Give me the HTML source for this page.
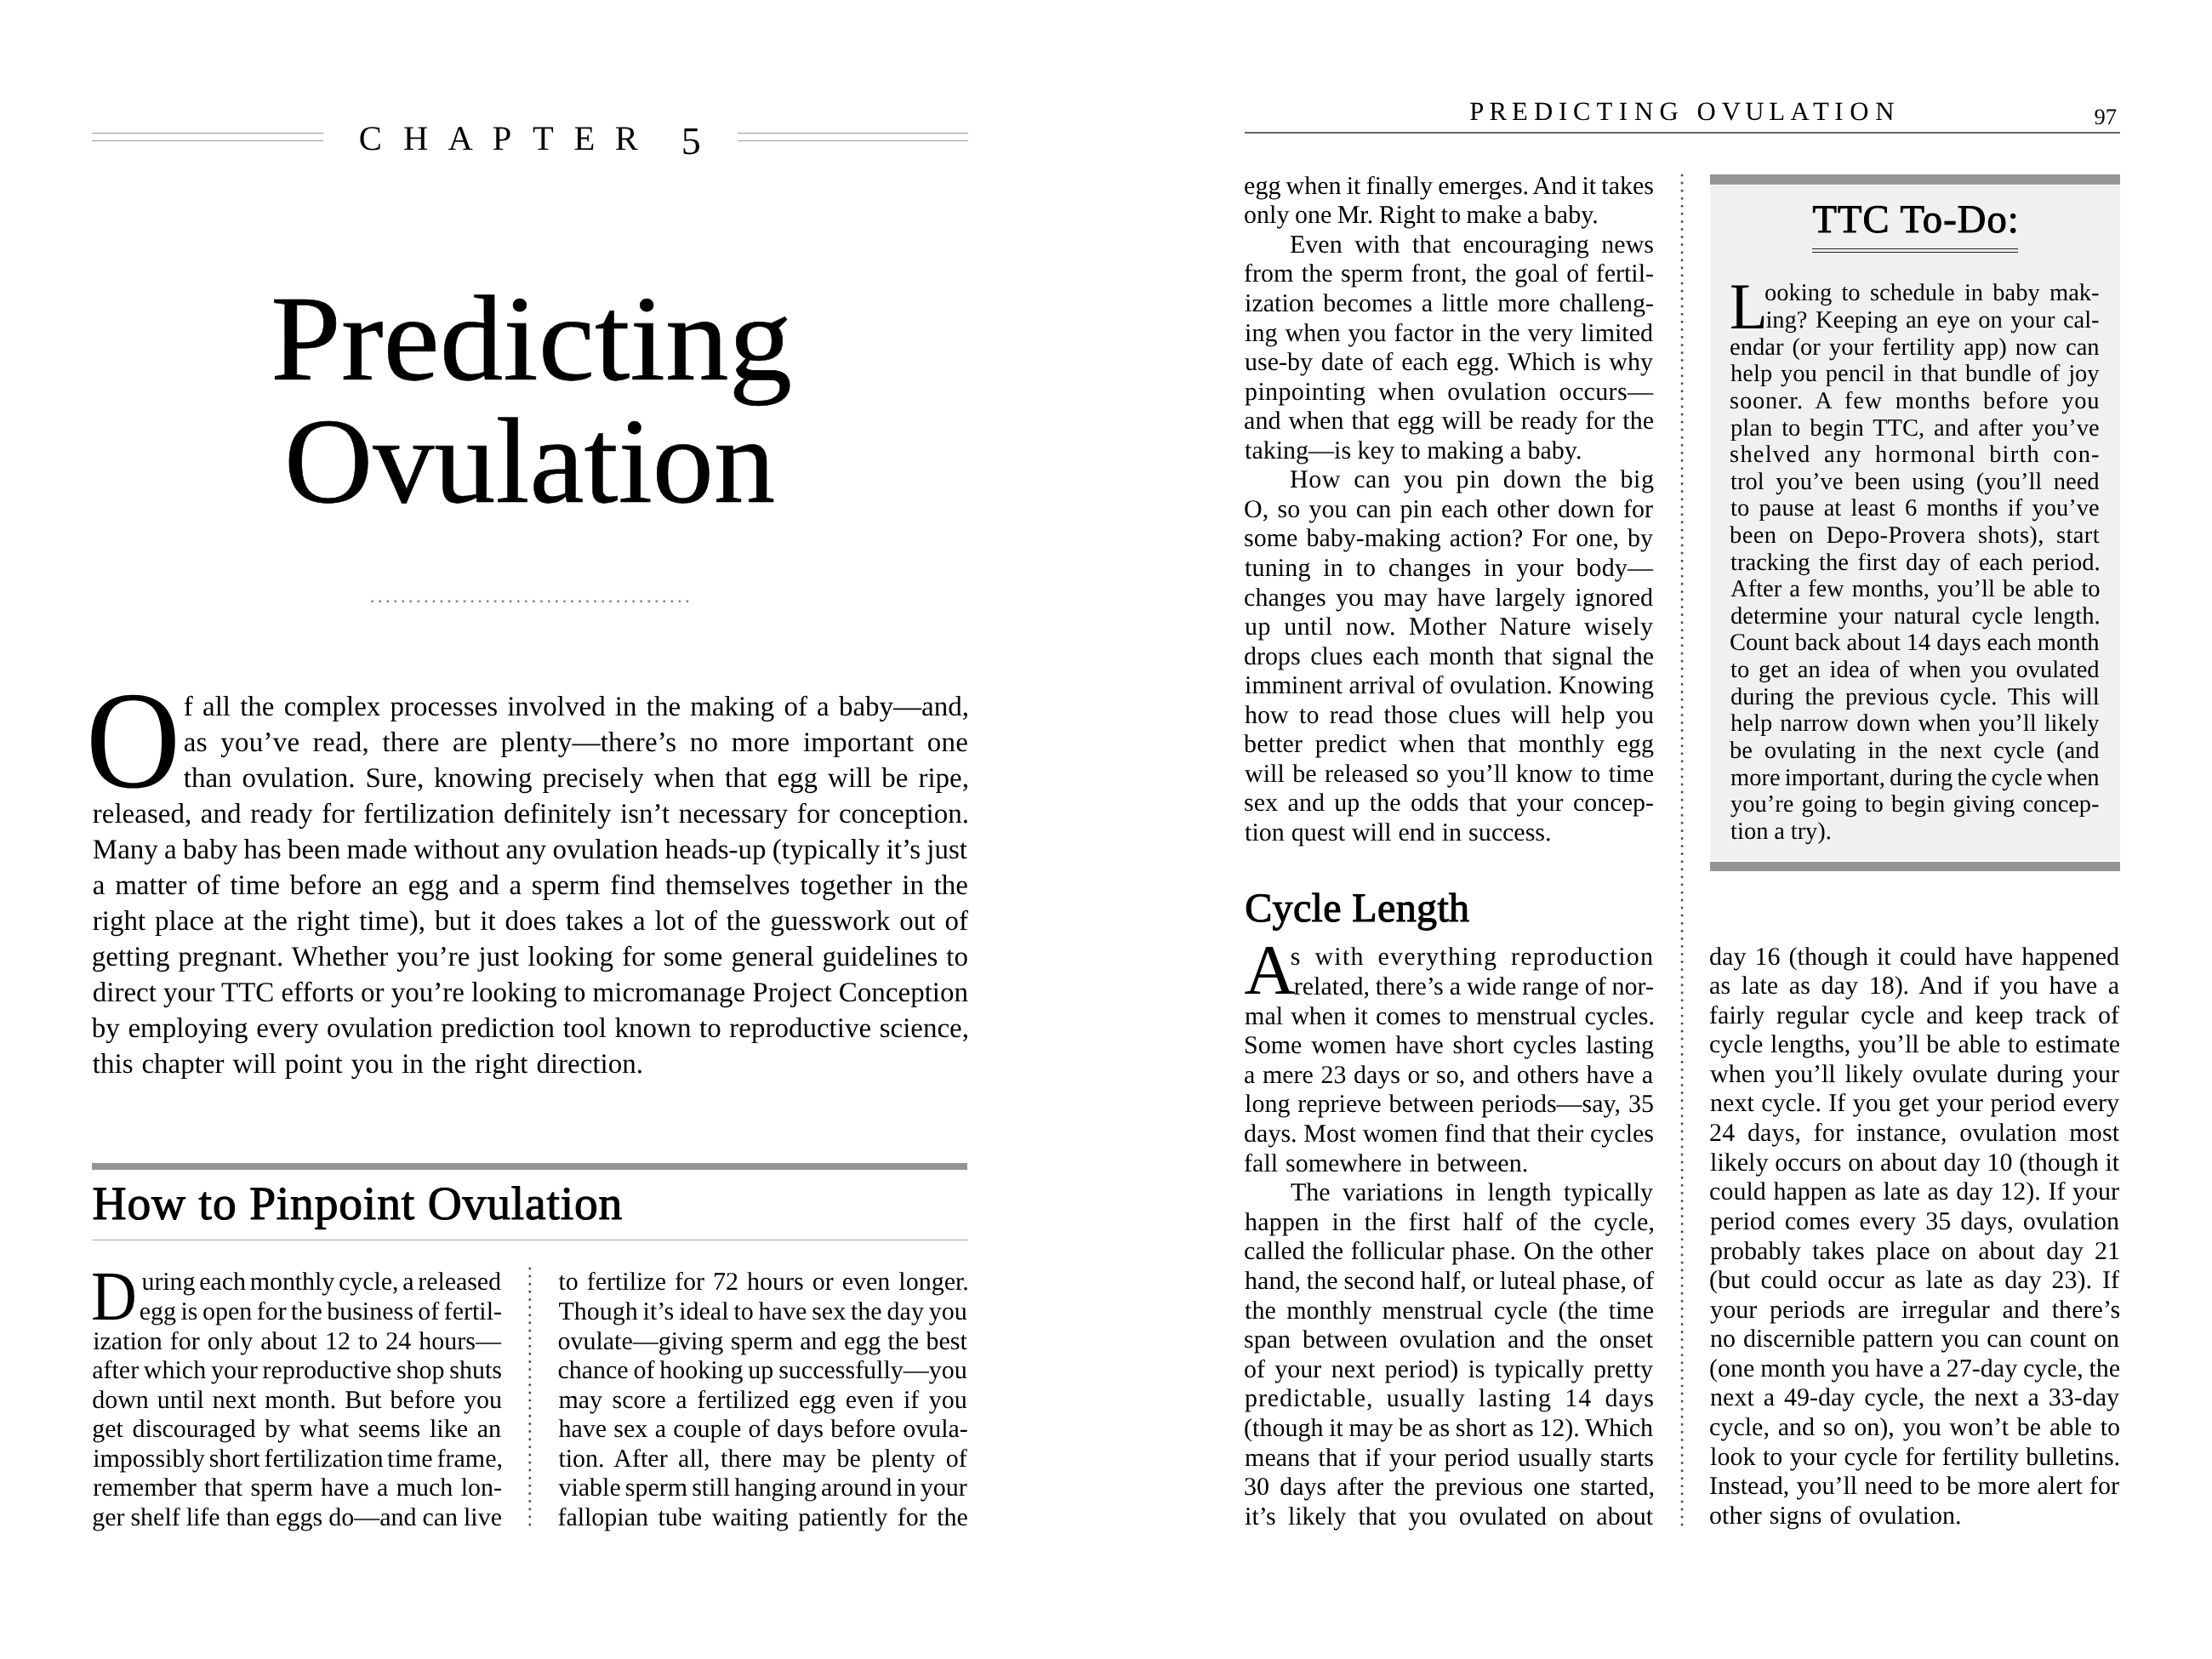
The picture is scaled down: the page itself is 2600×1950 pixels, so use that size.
<!DOCTYPE html>
<html lang="en"><head><meta charset="utf-8"><title>Predicting Ovulation</title>
<style>
html,body{margin:0;padding:0;background:#fff}
html{filter:grayscale(1)}
body{width:2600px;height:1950px;position:relative;overflow:hidden;font-family:"Liberation Serif",serif;color:#000;text-rendering:geometricPrecision}
.a{position:absolute}
.l{position:absolute;white-space:pre;line-height:40px;height:40px}
.hr{position:absolute;height:1.1px;background:#9a9a9a}
</style></head><body>
<div class="hr" style="left:108px;top:156px;width:272px"></div>
<div class="hr" style="left:108px;top:165px;width:272px"></div>
<div class="hr" style="left:867px;top:156px;width:271px"></div>
<div class="hr" style="left:867px;top:165px;width:271px"></div>
<svg class="a" style="left:0;top:0;overflow:visible" width="2600" height="200"><text x="421.85 474.05 526.55 578.70 626.00 674.60 722.75 742.75" y="175.70" font-family="Liberation Serif" font-size="40.6" fill="#000">CHAPTER <tspan x="800.65" dy="5.7" font-size="46">5</tspan></text></svg>
<div class="l" style="left:317.9px;top:379.00px;font-size:143.5px;letter-spacing:0px;transform-origin:0 0;transform:scaleX(1.0393);-webkit-text-stroke:0.6px #000">Predicting</div>
<div class="l" style="left:333.9px;top:523.00px;font-size:143.5px;letter-spacing:0px;transform-origin:0 0;transform:scaleX(1.0055);-webkit-text-stroke:0.6px #000">Ovulation</div>
<svg class="a" style="left:0;top:0" width="1300" height="800"><line x1="437.7" y1="706.7" x2="808.4" y2="706.7" stroke="#8a8a8a" stroke-width="3" stroke-linecap="round" stroke-dasharray="0 9.029"/></svg>
<div class="a" style="left:108px;top:1367.3px;width:1029.3px;height:7.7px;background:#939598"></div>
<div class="l" style="left:108.5px;top:1396.00px;font-size:55.5px;letter-spacing:0.834px;-webkit-text-stroke:1.1px #000">How to Pinpoint Ovulation</div>
<div class="a" style="left:108px;top:1456.5px;width:1030px;height:1.2px;background:#a6a6a6"></div>
<svg class="a" style="left:0;top:0" width="1300" height="1950"><line x1="622.8" y1="1491" x2="622.8" y2="1792.5" stroke="#505050" stroke-width="3" stroke-linecap="round" stroke-dasharray="0 9.12"/></svg>
<svg class="a" style="left:0;top:0;overflow:visible" width="2600" height="200"><text x="1727.25 1750.45 1776.90 1802.90 1832.05 1849.05 1876.50 1902.85 1921.00 1950.50 1970.50 1994.60 2023.80 2051.20 2079.30 2104.60 2130.90 2156.25 2174.30 2204.30" y="141.20" font-family="Liberation Serif" font-size="30.8" fill="#000">PREDICTING OVULATION</text></svg>
<div class="l" style="left:2461.5px;top:117.00px;font-size:26.6px">97</div>
<div class="a" style="left:1462.7px;top:155px;width:1029px;height:2px;background:#666"></div>
<svg class="a" style="left:1300px;top:0" width="1300" height="1950"><line x1="677.1" y1="206" x2="677.1" y2="1792.6" stroke="#505050" stroke-width="3" stroke-linecap="round" stroke-dasharray="0 9.0634"/></svg>
<div class="a" style="left:2010px;top:217.6px;width:481.6px;height:793.6px;background:#f0f0f0"></div>
<div class="a" style="left:2010px;top:204.8px;width:481.6px;height:11.8px;background:#939598"></div>
<div class="a" style="left:2010px;top:1012.6px;width:481.6px;height:11.8px;background:#939598"></div>
<div class="l" style="left:2130.4px;top:239.00px;font-size:46.5px;letter-spacing:1.126px;-webkit-text-stroke:1.0px #000">TTC To-Do:</div>
<div class="a" style="left:2130px;top:291.6px;width:242px;height:1.3px;background:#222"></div>
<div class="a" style="left:2130px;top:295.8px;width:242px;height:1.3px;background:#222"></div>
<div class="l" style="left:1463.2px;top:1048.00px;font-size:48px;letter-spacing:0.363px;-webkit-text-stroke:1.1px #000">Cycle Length</div>
<div class="l" style="left:100.8px;top:851.00px;font-size:163.5px;transform-origin:0 0;transform:scaleX(0.94)">O</div>
<div class="l" style="left:107.1px;top:1504.00px;font-size:82.4px;transform-origin:0 0;transform:scaleX(0.905)">D</div>
<div class="l" style="left:2032.8px;top:340.00px;font-size:77px;transform-origin:0 0;transform:scaleX(0.95)">L</div>
<div class="l" style="left:1462.5px;top:1121.00px;font-size:83.5px;transform-origin:0 0;transform:scaleX(1.0)">A</div>
<div class="l" style="left:215.8px;top:811.00px;font-size:33px;word-spacing:2.949px">f all the complex processes involved in the making of a baby—and,</div>
<div class="l" style="left:215.8px;top:853.00px;font-size:33px;letter-spacing:0.235px;word-spacing:7.000px">as you’ve read, there are plenty—there’s no more important one</div>
<div class="l" style="left:215.8px;top:895.00px;font-size:33px;word-spacing:3.698px">than ovulation. Sure, knowing precisely when that egg will be ripe,</div>
<div class="l" style="left:108.8px;top:937.00px;font-size:33px;word-spacing:2.441px">released, and ready for fertilization definitely isn’t necessary for conception.</div>
<div class="l" style="left:108.8px;top:979.00px;font-size:33px;word-spacing:-0.923px">Many a baby has been made without any ovulation heads-up (typically it’s just</div>
<div class="l" style="left:108.8px;top:1021.00px;font-size:33px;word-spacing:3.480px">a matter of time before an egg and a sperm find themselves together in the</div>
<div class="l" style="left:108.8px;top:1063.00px;font-size:33px;word-spacing:2.751px">right place at the right time), but it does takes a lot of the guesswork out of</div>
<div class="l" style="left:107.8px;top:1105.00px;font-size:33px;word-spacing:1.815px">getting pregnant. Whether you’re just looking for some general guidelines to</div>
<div class="l" style="left:108.8px;top:1147.00px;font-size:33px;word-spacing:-0.149px">direct your TTC efforts or you’re looking to micromanage Project Conception</div>
<div class="l" style="left:107.8px;top:1189.00px;font-size:33px;word-spacing:1.347px">by employing every ovulation prediction tool known to reproductive science,</div>
<div class="l" style="left:108.8px;top:1231.00px;font-size:33px;word-spacing:1.736px">this chapter will point you in the right direction.</div>
<div class="l" style="left:166.5px;top:1487.00px;font-size:30px;letter-spacing:-0.090px;word-spacing:-2.500px">uring each monthly cycle, a released</div>
<div class="l" style="left:163.8px;top:1522.00px;font-size:30px;word-spacing:-2.076px">egg is open for the business of fertil-</div>
<div class="l" style="left:109.2px;top:1557.00px;font-size:30px;word-spacing:1.527px">ization for only about 12 to 24 hours—</div>
<div class="l" style="left:108.2px;top:1591.00px;font-size:30px;word-spacing:-1.784px">after which your reproductive shop shuts</div>
<div class="l" style="left:108.2px;top:1626.00px;font-size:30px;word-spacing:2.391px">down until next month. But before you</div>
<div class="l" style="left:108.2px;top:1660.00px;font-size:30px;word-spacing:3.211px">get discouraged by what seems like an</div>
<div class="l" style="left:109.2px;top:1695.00px;font-size:30px;letter-spacing:-0.015px;word-spacing:-2.500px">impossibly short fertilization time frame,</div>
<div class="l" style="left:109.2px;top:1729.00px;font-size:30px;word-spacing:1.829px">remember that sperm have a much lon-</div>
<div class="l" style="left:108.2px;top:1764.00px;font-size:30px;word-spacing:-0.553px">ger shelf life than eggs do—and can live</div>
<div class="l" style="left:656.4px;top:1487.00px;font-size:30px;word-spacing:2.506px">to fertilize for 72 hours or even longer.</div>
<div class="l" style="left:656.4px;top:1522.00px;font-size:30px;word-spacing:-1.604px">Though it’s ideal to have sex the day you</div>
<div class="l" style="left:655.4px;top:1557.00px;font-size:30px;word-spacing:0.799px">ovulate—giving sperm and egg the best</div>
<div class="l" style="left:655.4px;top:1591.00px;font-size:30px;word-spacing:-1.705px">chance of hooking up successfully—you</div>
<div class="l" style="left:656.4px;top:1626.00px;font-size:30px;word-spacing:4.012px">may score a fertilized egg even if you</div>
<div class="l" style="left:656.4px;top:1660.00px;font-size:30px;word-spacing:0.823px">have sex a couple of days before ovula-</div>
<div class="l" style="left:656.4px;top:1695.00px;font-size:30px;word-spacing:4.957px">tion. After all, there may be plenty of</div>
<div class="l" style="left:656.4px;top:1729.00px;font-size:30px;word-spacing:-2.420px">viable sperm still hanging around in your</div>
<div class="l" style="left:655.4px;top:1764.00px;font-size:30px;word-spacing:4.005px">fallopian tube waiting patiently for the</div>
<div class="l" style="left:1462.1px;top:199.00px;font-size:30px;word-spacing:-1.302px">egg when it finally emerges. And it takes</div>
<div class="l" style="left:1462.1px;top:233.00px;font-size:30px;word-spacing:-1.033px">only one Mr. Right to make a baby.</div>
<div class="l" style="left:1516.0px;top:268.00px;font-size:30px;letter-spacing:0.004px;word-spacing:7.000px">Even with that encouraging news</div>
<div class="l" style="left:1462.1px;top:302.00px;font-size:30px;word-spacing:1.959px">from the sperm front, the goal of fertil-</div>
<div class="l" style="left:1463.1px;top:337.00px;font-size:30px;word-spacing:3.049px">ization becomes a little more challeng-</div>
<div class="l" style="left:1463.1px;top:372.00px;font-size:30px;word-spacing:1.550px">ing when you factor in the very limited</div>
<div class="l" style="left:1463.1px;top:406.00px;font-size:30px;word-spacing:2.229px">use-by date of each egg. Which is why</div>
<div class="l" style="left:1463.1px;top:441.00px;font-size:30px;letter-spacing:0.347px;word-spacing:7.000px">pinpointing when ovulation occurs—</div>
<div class="l" style="left:1462.1px;top:475.00px;font-size:30px;word-spacing:1.507px">and when that egg will be ready for the</div>
<div class="l" style="left:1463.1px;top:510.00px;font-size:30px;word-spacing:-0.006px">taking—is key to making a baby.</div>
<div class="l" style="left:1516.0px;top:544.00px;font-size:30px;letter-spacing:0.594px;word-spacing:7.000px">How can you pin down the big</div>
<div class="l" style="left:1462.1px;top:579.00px;font-size:30px;word-spacing:2.732px">O, so you can pin each other down for</div>
<div class="l" style="left:1462.1px;top:613.00px;font-size:30px;word-spacing:2.533px">some baby-making action? For one, by</div>
<div class="l" style="left:1463.1px;top:648.00px;font-size:30px;letter-spacing:0.139px;word-spacing:7.000px">tuning in to changes in your body—</div>
<div class="l" style="left:1462.1px;top:683.00px;font-size:30px;word-spacing:3.821px">changes you may have largely ignored</div>
<div class="l" style="left:1463.1px;top:717.00px;font-size:30px;letter-spacing:0.513px;word-spacing:7.000px">up until now. Mother Nature wisely</div>
<div class="l" style="left:1462.1px;top:752.00px;font-size:30px;word-spacing:3.947px">drops clues each month that signal the</div>
<div class="l" style="left:1463.1px;top:786.00px;font-size:30px;word-spacing:0.037px">imminent arrival of ovulation. Knowing</div>
<div class="l" style="left:1463.1px;top:821.00px;font-size:30px;word-spacing:4.783px">how to read those clues will help you</div>
<div class="l" style="left:1462.1px;top:855.00px;font-size:30px;letter-spacing:0.129px;word-spacing:7.000px">better predict when that monthly egg</div>
<div class="l" style="left:1463.1px;top:890.00px;font-size:30px;word-spacing:1.928px">will be released so you’ll know to time</div>
<div class="l" style="left:1462.1px;top:924.00px;font-size:30px;word-spacing:3.979px">sex and up the odds that your concep-</div>
<div class="l" style="left:1463.1px;top:959.00px;font-size:30px;word-spacing:0.421px">tion quest will end in success.</div>
<div class="l" style="left:2074.0px;top:325.00px;font-size:28.5px;word-spacing:4.161px">ooking to schedule in baby mak-</div>
<div class="l" style="left:2075.4px;top:357.00px;font-size:28.5px;word-spacing:2.322px">ing? Keeping an eye on your cal-</div>
<div class="l" style="left:2033.1px;top:389.00px;font-size:28.5px;word-spacing:3.039px">endar (or your fertility app) now can</div>
<div class="l" style="left:2034.1px;top:420.00px;font-size:28.5px;word-spacing:2.790px">help you pencil in that bundle of joy</div>
<div class="l" style="left:2033.1px;top:452.00px;font-size:28.5px;letter-spacing:0.757px;word-spacing:7.000px">sooner. A few months before you</div>
<div class="l" style="left:2034.1px;top:484.00px;font-size:28.5px;word-spacing:3.878px">plan to begin TTC, and after you’ve</div>
<div class="l" style="left:2033.1px;top:515.00px;font-size:28.5px;letter-spacing:1.203px;word-spacing:7.000px">shelved any hormonal birth con-</div>
<div class="l" style="left:2034.1px;top:547.00px;font-size:28.5px;word-spacing:6.444px">trol you’ve been using (you’ll need</div>
<div class="l" style="left:2034.1px;top:578.00px;font-size:28.5px;word-spacing:4.147px">to pause at least 6 months if you’ve</div>
<div class="l" style="left:2033.1px;top:610.00px;font-size:28.5px;letter-spacing:0.350px;word-spacing:7.000px">been on Depo-Provera shots), start</div>
<div class="l" style="left:2034.1px;top:642.00px;font-size:28.5px;word-spacing:3.435px">tracking the first day of each period.</div>
<div class="l" style="left:2034.1px;top:673.00px;font-size:28.5px;word-spacing:1.922px">After a few months, you’ll be able to</div>
<div class="l" style="left:2034.1px;top:705.00px;font-size:28.5px;word-spacing:5.551px">determine your natural cycle length.</div>
<div class="l" style="left:2033.1px;top:736.00px;font-size:28.5px;word-spacing:-0.138px">Count back about 14 days each month</div>
<div class="l" style="left:2034.1px;top:768.00px;font-size:28.5px;word-spacing:3.701px">to get an idea of when you ovulated</div>
<div class="l" style="left:2034.1px;top:800.00px;font-size:28.5px;word-spacing:5.753px">during the previous cycle. This will</div>
<div class="l" style="left:2034.1px;top:831.00px;font-size:28.5px;word-spacing:2.009px">help narrow down when you’ll likely</div>
<div class="l" style="left:2033.1px;top:863.00px;font-size:28.5px;word-spacing:6.729px">be ovulating in the next cycle (and</div>
<div class="l" style="left:2034.1px;top:895.00px;font-size:28.5px;word-spacing:-1.941px">more important, during the cycle when</div>
<div class="l" style="left:2034.1px;top:926.00px;font-size:28.5px;word-spacing:2.012px">you’re going to begin giving concep-</div>
<div class="l" style="left:2034.1px;top:958.00px;font-size:28.5px;word-spacing:-0.308px">tion a try).</div>
<div class="l" style="left:1516.8px;top:1105.00px;font-size:30px;letter-spacing:1.245px;word-spacing:7.000px">s with everything reproduction</div>
<div class="l" style="left:1520.8px;top:1140.00px;font-size:30px;word-spacing:-0.584px">related, there’s a wide range of nor-</div>
<div class="l" style="left:1463.1px;top:1175.00px;font-size:30px;word-spacing:1.587px">mal when it comes to menstrual cycles.</div>
<div class="l" style="left:1462.1px;top:1209.00px;font-size:30px;word-spacing:3.233px">Some women have short cycles lasting</div>
<div class="l" style="left:1462.1px;top:1244.00px;font-size:30px;word-spacing:1.043px">a mere 23 days or so, and others have a</div>
<div class="l" style="left:1463.1px;top:1278.00px;font-size:30px;word-spacing:1.373px">long reprieve between periods—say, 35</div>
<div class="l" style="left:1462.1px;top:1313.00px;font-size:30px;word-spacing:0.194px">days. Most women find that their cycles</div>
<div class="l" style="left:1462.1px;top:1348.00px;font-size:30px;word-spacing:1.408px">fall somewhere in between.</div>
<div class="l" style="left:1517.0px;top:1382.00px;font-size:30px;word-spacing:6.941px">The variations in length typically</div>
<div class="l" style="left:1463.1px;top:1417.00px;font-size:30px;letter-spacing:0.173px;word-spacing:7.000px">happen in the first half of the cycle,</div>
<div class="l" style="left:1462.1px;top:1451.00px;font-size:30px;word-spacing:1.153px">called the follicular phase. On the other</div>
<div class="l" style="left:1463.1px;top:1486.00px;font-size:30px;word-spacing:-0.563px">hand, the second half, or luteal phase, of</div>
<div class="l" style="left:1463.1px;top:1521.00px;font-size:30px;word-spacing:5.039px">the monthly menstrual cycle (the time</div>
<div class="l" style="left:1462.1px;top:1555.00px;font-size:30px;word-spacing:6.367px">span between ovulation and the onset</div>
<div class="l" style="left:1462.1px;top:1590.00px;font-size:30px;word-spacing:3.780px">of your next period) is typically pretty</div>
<div class="l" style="left:1463.1px;top:1624.00px;font-size:30px;letter-spacing:0.871px;word-spacing:7.000px">predictable, usually lasting 14 days</div>
<div class="l" style="left:1462.1px;top:1659.00px;font-size:30px;word-spacing:-0.745px">(though it may be as short as 12). Which</div>
<div class="l" style="left:1463.1px;top:1694.00px;font-size:30px;word-spacing:2.387px">means that if your period usually starts</div>
<div class="l" style="left:1462.1px;top:1728.00px;font-size:30px;word-spacing:4.535px">30 days after the previous one started,</div>
<div class="l" style="left:1463.1px;top:1763.00px;font-size:30px;word-spacing:6.660px">it’s likely that you ovulated on about</div>
<div class="l" style="left:2009.1px;top:1105.00px;font-size:30px;word-spacing:2.576px">day 16 (though it could have happened</div>
<div class="l" style="left:2009.1px;top:1139.00px;font-size:30px;word-spacing:5.236px">as late as day 18). And if you have a</div>
<div class="l" style="left:2009.1px;top:1174.00px;font-size:30px;word-spacing:6.484px">fairly regular cycle and keep track of</div>
<div class="l" style="left:2009.1px;top:1208.00px;font-size:30px;word-spacing:1.219px">cycle lengths, you’ll be able to estimate</div>
<div class="l" style="left:2010.1px;top:1243.00px;font-size:30px;word-spacing:3.384px">when you’ll likely ovulate during your</div>
<div class="l" style="left:2010.1px;top:1277.00px;font-size:30px;word-spacing:0.882px">next cycle. If you get your period every</div>
<div class="l" style="left:2009.1px;top:1312.00px;font-size:30px;letter-spacing:0.127px;word-spacing:7.000px">24 days, for instance, ovulation most</div>
<div class="l" style="left:2010.1px;top:1347.00px;font-size:30px;word-spacing:0.275px">likely occurs on about day 10 (though it</div>
<div class="l" style="left:2009.1px;top:1381.00px;font-size:30px;word-spacing:1.207px">could happen as late as day 12). If your</div>
<div class="l" style="left:2010.1px;top:1416.00px;font-size:30px;word-spacing:3.556px">period comes every 35 days, ovulation</div>
<div class="l" style="left:2010.1px;top:1451.00px;font-size:30px;word-spacing:5.911px">probably takes place on about day 21</div>
<div class="l" style="left:2009.1px;top:1485.00px;font-size:30px;word-spacing:4.541px">(but could occur as late as day 23). If</div>
<div class="l" style="left:2010.1px;top:1520.00px;font-size:30px;letter-spacing:0.082px;word-spacing:7.000px">your periods are irregular and there’s</div>
<div class="l" style="left:2010.1px;top:1554.00px;font-size:30px;word-spacing:1.299px">no discernible pattern you can count on</div>
<div class="l" style="left:2009.1px;top:1589.00px;font-size:30px;word-spacing:-0.739px">(one month you have a 27-day cycle, the</div>
<div class="l" style="left:2010.1px;top:1623.00px;font-size:30px;word-spacing:3.502px">next a 49-day cycle, the next a 33-day</div>
<div class="l" style="left:2009.1px;top:1658.00px;font-size:30px;word-spacing:2.334px">cycle, and so on), you won’t be able to</div>
<div class="l" style="left:2010.1px;top:1693.00px;font-size:30px;word-spacing:1.044px">look to your cycle for fertility bulletins.</div>
<div class="l" style="left:2009.1px;top:1727.00px;font-size:30px;word-spacing:0.788px">Instead, you’ll need to be more alert for</div>
<div class="l" style="left:2009.1px;top:1762.00px;font-size:30px;word-spacing:1.553px">other signs of ovulation.</div>
</body></html>
